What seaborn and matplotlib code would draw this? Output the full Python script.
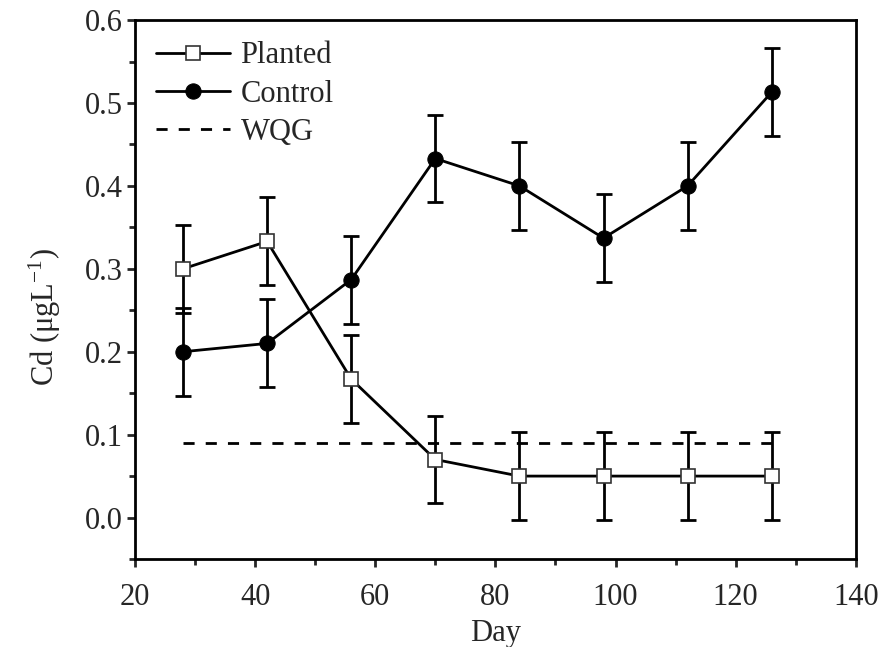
#!/usr/bin/env python
"""
Cd concentration over time, planted vs control, with WQG guideline
"""

import pandas as pd
import seaborn as sns
import matplotlib.pyplot as plt
from matplotlib.ticker import MultipleLocator

days = [28, 42, 56, 70, 84, 98, 112, 126]
planted = [0.300, 0.333, 0.167, 0.070, 0.050, 0.050, 0.050, 0.050]
control = [0.200, 0.210, 0.287, 0.433, 0.400, 0.337, 0.400, 0.513]
planted_err = [0.053, 0.053, 0.053, 0.053, 0.053, 0.053, 0.053, 0.053]
control_err = [0.053, 0.053, 0.053, 0.053, 0.053, 0.053, 0.053, 0.053]
wqg = 0.09

sns.set_style("ticks")
plt.rcParams['font.family'] = ['Liberation Serif', 'DejaVu Serif']
plt.rcParams['mathtext.fontset'] = 'custom'
plt.rcParams['mathtext.rm'] = 'Liberation Serif'
plt.rcParams['mathtext.it'] = 'Liberation Serif:italic'

df = pd.DataFrame({"Day": days * 2,
                   "Cd": planted + control,
                   "err": planted_err + control_err,
                   "Series": ["Planted"] * len(days) + ["Control"] * len(days)})

fig = plt.figure(figsize=(8.85, 6.47), dpi=100)
ax = fig.add_axes([0.1525, 0.136, 0.8145, 0.833])

# error bars first so markers sit on top
for name in ["Planted", "Control"]:
    sub = df[df["Series"] == name]
    ax.errorbar(sub["Day"], sub["Cd"], yerr=sub["err"], fmt='none',
                ecolor='black', elinewidth=2, capsize=6, capthick=2, zorder=2)

sty = {"Planted": dict(marker="s", markerfacecolor="white",
                       markeredgecolor="#333333", markeredgewidth=1.2,
                       markersize=10),
       "Control": dict(marker="o", markerfacecolor="black",
                       markeredgecolor="black", markersize=11)}
handles = {}
for name in ["Planted", "Control"]:
    sub = df[df["Series"] == name]
    sns.lineplot(data=sub, x="Day", y="Cd", color="black", linewidth=2,
                 ax=ax, zorder=3, legend=False, **sty[name])
    handles[name] = ax.lines[-1]

wqg_line, = ax.plot([days[0], days[-1]], [wqg, wqg], color='black',
                    linestyle=(0, (4, 4)), linewidth=2, zorder=1)

ax.legend([handles["Planted"], handles["Control"], wqg_line],
          ["Planted", "Control", "WQG"],
          loc='upper left', frameon=False, fontsize=22, handlelength=2.4,
          handletextpad=0.35, labelspacing=0.3, borderaxespad=0.3,
          bbox_to_anchor=(0.0, 1.0))

ax.set_xlim(20, 140)
ax.set_ylim(-0.05, 0.6)
ax.xaxis.set_major_locator(MultipleLocator(20))
ax.xaxis.set_minor_locator(MultipleLocator(10))
ax.yaxis.set_major_locator(MultipleLocator(0.1))
ax.yaxis.set_minor_locator(MultipleLocator(0.05))
ax.yaxis.set_major_formatter(plt.FuncFormatter(lambda v, p: f"{v:.1f}"))
ax.tick_params(which='major', direction='out', length=6, width=2,
               labelsize=22, top=False, right=False, pad=3)
ax.tick_params(axis='x', which='major', pad=11)
ax.tick_params(which='minor', direction='out', length=4, width=2,
               top=False, right=False)
for sp in ax.spines.values():
    sp.set_linewidth(2)
    sp.set_color('black')

ax.set_xlabel("Day", fontsize=22, labelpad=5)
ax.set_ylabel("Cd (μgL$^{-1}$)", fontsize=22)
ax.yaxis.set_label_coords(-0.1, 0.45)

fig.savefig("out.png", dpi=100)
